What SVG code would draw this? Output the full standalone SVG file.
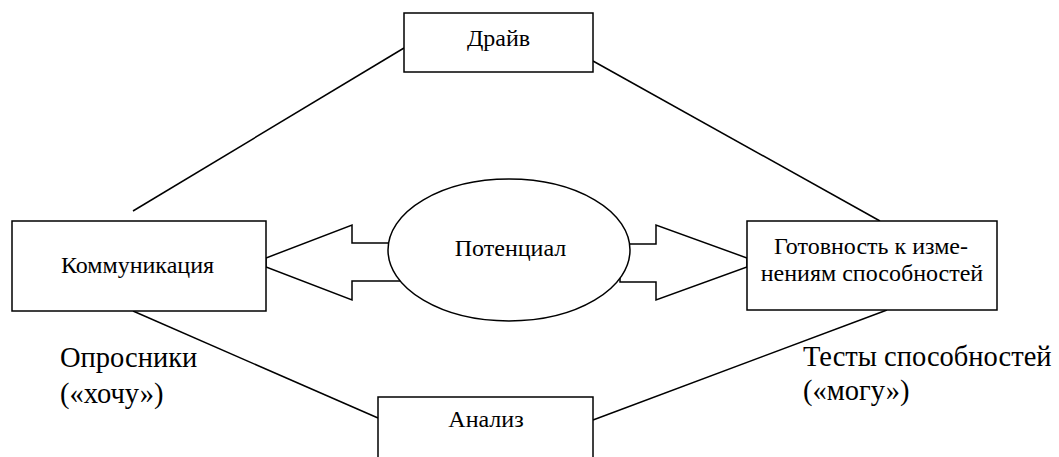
<svg xmlns="http://www.w3.org/2000/svg" width="1059" height="457" viewBox="0 0 1059 457">
<style>
.box{fill:#fff;stroke:#000;stroke-width:1.5}
.ln{fill:none;stroke:#000;stroke-width:1.5}
.arr{fill:#fff;stroke:#000;stroke-width:1.5;stroke-linejoin:miter}
.t{font-size:24px;text-anchor:middle}
.b{font-size:28.5px}
</style>
<g font-family="'Liberation Serif', 'Times New Roman', serif" fill="#000">
<g id="connectors">
<line class="ln" x1="133" y1="211" x2="404" y2="48"/>
<line class="ln" x1="593" y1="61" x2="880" y2="221"/>
<line class="ln" x1="133" y1="311" x2="378" y2="418"/>
<line class="ln" x1="887" y1="310" x2="593" y2="420"/>
<polygon class="arr" points="400,243 352,243 352,225 266,258 266,267 352,300 352,281 400,281"/>
<polygon class="arr" points="620,244 656,244 656,225 747,258 747,267 656,300 656,282 620,282"/>
</g>
<g id="drive"><rect class="box" x="404" y="13" width="189" height="59"/><text class="t" x="498.5" y="46">Драйв</text></g>
<g id="communication"><rect class="box" x="12" y="221" width="254" height="90"/><text class="t" x="137.5" y="273">Коммуникация</text></g>
<g id="potential"><ellipse class="box" cx="509" cy="250" rx="121" ry="71"/><text class="t" x="510.5" y="256">Потенциал</text></g>
<g id="readiness"><rect class="box" x="747" y="221" width="250" height="89"/><text class="t" x="871" y="254">Готовность к изме-</text><text class="t" x="872" y="281">нениям способностей</text></g>
<g id="analysis"><rect class="box" x="378" y="397" width="215" height="70"/><text class="t" x="486" y="427">Анализ</text></g>
<text class="b" x="60" y="367">Опросники</text>
<text class="b" x="60" y="403">(«хочу»)</text>
<text class="b" x="803" y="366">Тесты способностей</text>
<text class="b" x="803" y="400">(«могу»)</text>
</g>
</svg>
